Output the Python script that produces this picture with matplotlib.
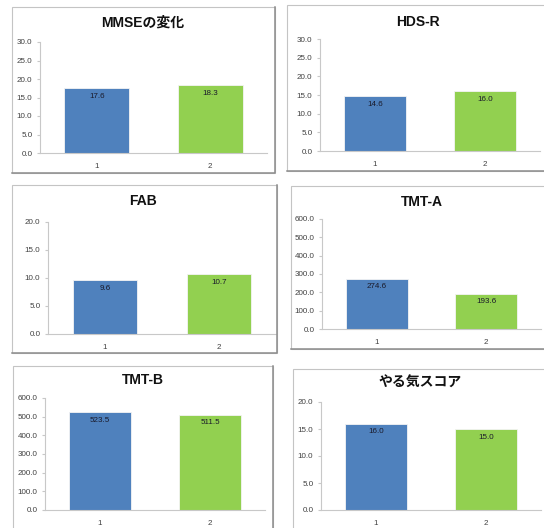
import matplotlib
matplotlib.use('Agg')
import matplotlib.pyplot as plt
import numpy as np
from matplotlib.patches import Rectangle
from matplotlib.lines import Line2D

titles = ['MMSEの変化', 'HDS-R', 'FAB', 'TMT-A', 'TMT-B', 'やる気スコア']
categories = ['1', '2']
first = [17.6, 14.6, 9.6, 274.6, 523.5, 16.0]
second = [18.3, 16.0, 10.7, 193.6, 511.5, 15.0]
y_max = [30, 30, 20, 600, 600, 20]
y_step = [5, 5, 5, 100, 100, 5]

W, H = 544, 528
# frame and plot area of each panel in pixels: (left, top, right, bottom)
frames = [(12, 7, 275, 173), (287, 5, 550, 171), (12, 185, 277, 353),
          (291, 186, 550, 349), (13, 366, 273, 535), (293, 369, 550, 535)]
plots = [(40, 42, 267, 153), (320, 39, 540, 151), (48, 222, 276, 334),
         (322, 219, 541, 329), (45, 398, 265, 510), (321, 402, 541, 510)]
title_xy = [(143, 23), (418, 22), (143, 201), (422, 202), (143, 380), (420, 383)]

colors = ['#4F81BD', '#92D050']
fonts = ['Liberation Sans', 'Noto Sans CJK JP']
plt.rcParams['font.family'] = fonts

fig = plt.figure(figsize=(W / 100, H / 100), dpi=100)
fig.patch.set_facecolor('white')


def fx(x):
    return x / W


def fy(y):
    return 1 - y / H


for i, title in enumerate(titles):
    l, t, r, b = frames[i]
    fig.add_artist(Rectangle((fx(l), fy(b)), fx(r - l), (b - t) / H,
                             transform=fig.transFigure, facecolor='white',
                             edgecolor='#C4C4C4', linewidth=0.8, zorder=0))
    # darker shadow on the bottom and right edges
    fig.add_artist(Line2D([fx(l), fx(r), fx(r)], [fy(b), fy(b), fy(t)],
                          transform=fig.transFigure, color='#8C8C8C',
                          linewidth=1.1, zorder=0.5))

    pl, pt, pr, pb = plots[i]
    ax = fig.add_axes([fx(pl), fy(pb), fx(pr - pl), (pb - pt) / H])
    ax.set_facecolor('none')
    x = np.arange(1, len(categories) + 1)
    vals = [first[i], second[i]]
    bars = ax.bar(x, vals, width=0.57, color=colors, edgecolor='#F4F4F4',
                  linewidth=0.6)
    ax.set_xlim(0.5, 2.5)
    ax.set_ylim(0, y_max[i])
    ax.set_yticks(np.arange(0, y_max[i] + 1, y_step[i]))
    ax.set_yticklabels([f'{v:.1f}' for v in ax.get_yticks()])
    ax.set_xticks(x)
    ax.set_xticklabels(categories)
    for side in ['top', 'right']:
        ax.spines[side].set_visible(False)
    for side in ['left', 'bottom']:
        ax.spines[side].set_color('#C8C8C8')
        ax.spines[side].set_linewidth(0.8)
    ax.tick_params(axis='y', length=2.5, color='#C8C8C8', labelsize=5.8,
                   labelcolor='#404040', pad=3)
    ax.tick_params(axis='x', length=0, labelsize=5.8, labelcolor='#404040',
                   pad=7)

    for bar, v in zip(bars, vals):
        ax.annotate(f'{v:.1f}',
                    xy=(bar.get_x() + bar.get_width() / 2, v),
                    xytext=(0, -6), textcoords='offset points',
                    ha='center', va='center', fontsize=5.8, color='#1A1A2A')

    tx, ty = title_xy[i]
    fig.text(fx(tx), fy(ty), title, ha='center', va='center', fontsize=10,
             fontweight='bold', color='#111111')

fig.savefig('out.png', dpi=100)
